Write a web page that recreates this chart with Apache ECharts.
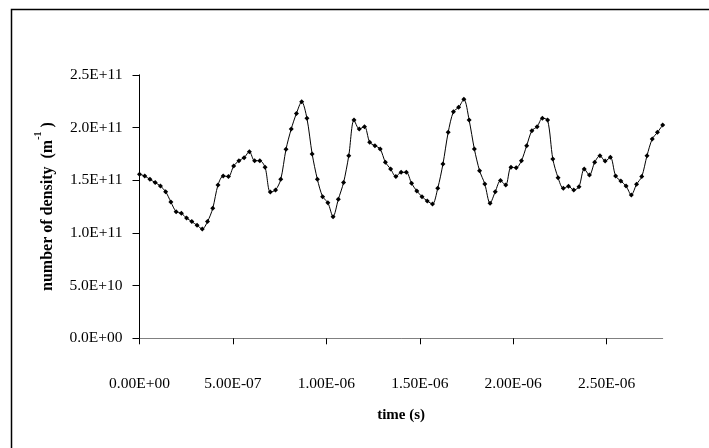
<!DOCTYPE html>
<html>
<head>
<meta charset="utf-8">
<script src="https://cdn.jsdelivr.net/npm/echarts@6/dist/echarts.min.js"></script>
<style>
html,body{margin:0;padding:0;background:#fff;}
#chart{width:709px;height:448px;}
</style>
</head>
<body>
<div id="chart"></div>
<script>
// time in nanoseconds
var timeNs = [0,28,56,84,112,140,168,196,224,252,280,308,336,364,392,420,448,476,504,532,
  560,588,616,644,672,700,728,756,784,812,840,868,896,924,952,980,1008,1036,1064,1092,
  1120,1148,1176,1204,1232,1260,1288,1316,1344,1372,1400,1428,1456,1484,1512,1540,1568,1596,1624,1652,
  1680,1708,1736,1764,1792,1820,1848,1876,1904,1932,1960,1988,2016,2044,2072,2100,2128,2156,2184,2212,
  2240,2268,2296,2324,2352,2380,2408,2436,2464,2492,2520,2548,2576,2604,2632,2660,2688,2716,2744,2772,2800];
// number of density (m^-1)
var density = [1.556e11,1.540e11,1.508e11,1.477e11,1.445e11,1.391e11,1.293e11,1.201e11,1.186e11,1.141e11,
  1.107e11,1.072e11,1.037e11,1.107e11,1.233e11,1.454e11,1.540e11,1.534e11,1.635e11,1.685e11,
  1.714e11,1.771e11,1.685e11,1.685e11,1.622e11,1.388e11,1.407e11,1.508e11,1.793e11,1.986e11,
  2.134e11,2.245e11,2.087e11,1.749e11,1.508e11,1.344e11,1.287e11,1.154e11,1.319e11,1.477e11,
  1.733e11,2.071e11,1.986e11,2.008e11,1.859e11,1.828e11,1.796e11,1.670e11,1.606e11,1.534e11,
  1.575e11,1.575e11,1.470e11,1.398e11,1.344e11,1.303e11,1.274e11,1.423e11,1.654e11,1.954e11,
  2.150e11,2.191e11,2.267e11,2.071e11,1.796e11,1.590e11,1.464e11,1.281e11,1.391e11,1.496e11,
  1.454e11,1.622e11,1.619e11,1.685e11,1.828e11,1.970e11,2.008e11,2.087e11,2.071e11,1.701e11,
  1.524e11,1.423e11,1.442e11,1.407e11,1.439e11,1.606e11,1.549e11,1.670e11,1.733e11,1.682e11,
  1.717e11,1.540e11,1.492e11,1.445e11,1.360e11,1.461e11,1.534e11,1.733e11,1.891e11,1.954e11,2.024e11];

var xTickValues = [0, 5e-7, 1e-6, 1.5e-6, 2e-6, 2.5e-6];
var xTickLabels = ['0.00E+00','5.00E-07','1.00E-06','1.50E-06','2.00E-06','2.50E-06'];
var yTickValues = [0, 5e10, 1e11, 1.5e11, 2e11, 2.5e11];
var yTickLabels = ['0.0E+00','5.0E+10','1.0E+11','1.5E+11','2.0E+11','2.5E+11'];

function lookup(vals, labels, v) {
  for (var i = 0; i < vals.length; i++) {
    if (Math.abs(vals[i] - v) <= Math.abs(vals[1] - vals[0]) * 1e-6) return labels[i];
  }
  return '';
}

var seriesData = timeNs.map(function (t, i) { return [t * 1e-9, density[i]]; });
var FONT = 'Liberation Serif';

var chart = echarts.init(document.getElementById('chart'), null, {renderer: 'canvas'});
chart.setOption({
  animation: false,
  backgroundColor: '#ffffff',
  graphic: [{
    type: 'rect', left: 9, top: 7, z: 100,
    shape: {width: 760, height: 500},
    style: {fill: 'none', stroke: '#000', lineWidth: 1.5}
  }],
  grid: {left: 139.5, right: 46.3, top: 74.8, bottom: 109.7, containLabel: false},
  xAxis: {
    type: 'value', min: 0, max: 2.8e-6,
    name: 'time (s)', nameLocation: 'middle', nameGap: 69,
    nameTextStyle: {fontFamily: FONT, fontWeight: 'bold', fontSize: 15, color: '#000'},
    axisLine: {show: true, lineStyle: {color: '#808080', width: 1}},
    axisTick: {show: true, inside: false, length: 6, customValues: xTickValues, lineStyle: {color: '#000', width: 1}},
    axisLabel: {
      customValues: xTickValues, margin: 38,
      fontFamily: FONT, fontSize: 15.5, color: '#000',
      formatter: function (v) { return lookup(xTickValues, xTickLabels, v); }
    },
    splitLine: {show: false}
  },
  yAxis: {
    type: 'value', min: 0, max: 2.5e11, interval: 5e10,
    name: '{a|number of density  (m}{s|-1}{a| )}', nameLocation: 'middle', nameGap: 84, nameRotate: 90,
    nameTextStyle: {
      rich: {
        a: {fontFamily: FONT, fontWeight: 'bold', fontSize: 16, color: '#000', verticalAlign: 'bottom', lineHeight: 22},
        s: {fontFamily: FONT, fontWeight: 'bold', fontSize: 10, color: '#000', verticalAlign: 'top', lineHeight: 22}
      }
    },
    axisLine: {show: true, lineStyle: {color: '#000', width: 1}},
    axisTick: {show: true, inside: false, length: 7, lineStyle: {color: '#000', width: 1}},
    axisLabel: {
      margin: 17, fontFamily: FONT, fontSize: 15.5, color: '#000',
      formatter: function (v) { return lookup(yTickValues, yTickLabels, v); }
    },
    splitLine: {show: false}
  },
  series: [{
    type: 'line', data: seriesData, smooth: 0.3,
    symbol: 'diamond', symbolSize: 5, showSymbol: true,
    lineStyle: {color: '#000', width: 1},
    itemStyle: {color: '#000', borderWidth: 0}
  }]
});
</script>
</body>
</html>
